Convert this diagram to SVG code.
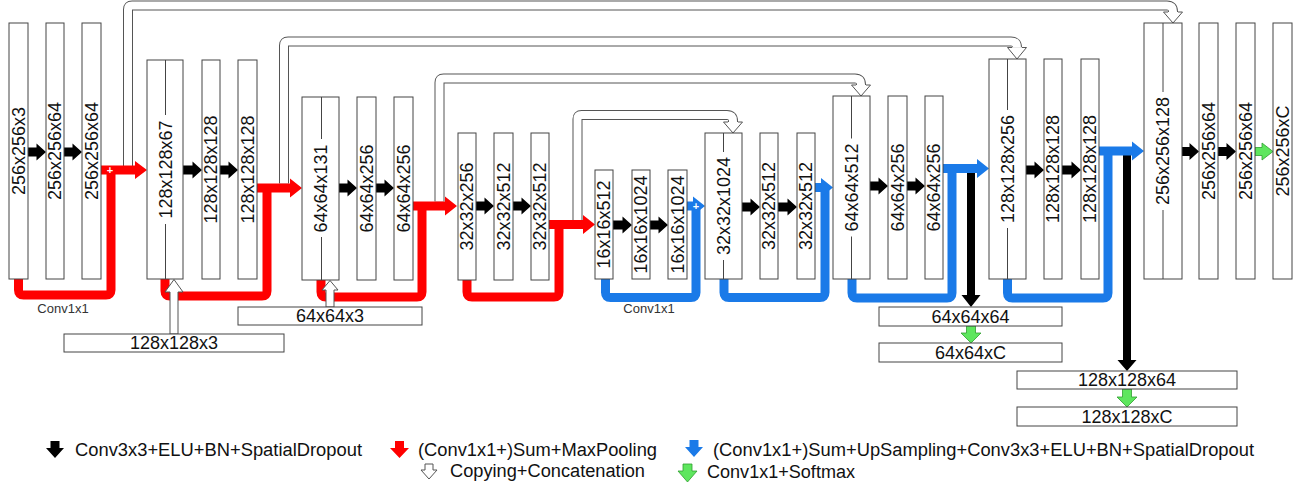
<svg xmlns="http://www.w3.org/2000/svg" width="1309" height="492" viewBox="0 0 1309 492">
<style>
.box{fill:#fff;stroke:#444;stroke-width:1}
.mid{stroke:#444;stroke-width:1;fill:none}
.lbl{font-family:"Liberation Sans",Arial,sans-serif;font-size:18px;fill:#111;text-anchor:middle;dominant-baseline:central}
.small{font-family:"Liberation Sans",Arial,sans-serif;font-size:13px;fill:#333;text-anchor:middle}
.leg{font-family:"Liberation Sans",Arial,sans-serif;font-size:18.8px;fill:#111}
.plus{font-family:"Liberation Sans",Arial,sans-serif;font-size:11px;font-weight:bold;fill:#fff;text-anchor:middle;dominant-baseline:central}
.blk{fill:#000}
.redf{fill:#f00}
.bluef{fill:#1a7ae8}
.grn{fill:#5ee65e;stroke:#2e9e2e;stroke-width:0.8}
.wht{fill:#fff;stroke:#555;stroke-width:1}
.redb{fill:none;stroke:#f00;stroke-width:9}
.blueb{fill:none;stroke:#1a7ae8;stroke-width:9}
.cpo{fill:none;stroke:#555;stroke-width:10}
.cpi{fill:none;stroke:#fff;stroke-width:8}
.cph{fill:#fff;stroke:#555;stroke-width:1}
</style>

<g id="connectors">
  <g id="copy-connectors">
    <path class="cpo" d="M128,166 V9.5 Q128,5.5 132,5.5 H1167 Q1173,5.5 1173,11.5 V12"/>
    <path class="cpi" d="M128,166 V9.5 Q128,5.5 132,5.5 H1167 Q1173,5.5 1173,11.5 V12"/>
    <path class="cph" d="M1168,12 H1163.5 L1173,23 L1182.5,12 H1178"/>
    <path class="cpo" d="M284,183.5 V45.5 Q284,41.5 288,41.5 H1011 Q1017,41.5 1017,47.5"/>
    <path class="cpi" d="M284,183.5 V45.5 Q284,41.5 288,41.5 H1011 Q1017,41.5 1017,47.5"/>
    <path class="cph" d="M1012,47.5 H1007.5 L1017,59 L1026.5,47.5 H1022"/>
    <path class="cpo" d="M439.5,201.5 V82.5 Q439.5,78.5 443.5,78.5 H855 Q861,78.5 861,84.5 V85"/>
    <path class="cpi" d="M439.5,201.5 V82.5 Q439.5,78.5 443.5,78.5 H855 Q861,78.5 861,84.5 V85"/>
    <path class="cph" d="M856,85 H851.5 L861,96 L870.5,85 H866"/>
    <path class="cpo" d="M577.5,220 V119 Q577.5,115 581.5,115 H727 Q733,115 733,121 V122"/>
    <path class="cpi" d="M577.5,220 V119 Q577.5,115 581.5,115 H727 Q733,115 733,121 V122"/>
    <path class="cph" d="M728,122 H723.5 L733,133 L742.5,122 H738"/>
  </g>
  <polygon class="blk" points="967,168 975,168 975,295 980.5,295 971,307 961.5,295 967,295"/>
  <polygon class="blk" points="1123,151 1131,151 1131,360 1136.5,360 1127,371 1117.5,360 1123,360"/>
  <path class="redb" d="M18.5,279 V290 Q18.5,295 23.5,295 H106 Q111,295 111,290 V170"/>
  <polygon class="redf" points="101,165.5 135,165.5 135,161 147,170 135,179 135,174.5 101,174.5"/>
  <path class="redb" d="M165,279 V291 Q165,296 170,296 H262 Q267,296 267,291 V188"/>
  <polygon class="redf" points="257,183.5 290,183.5 290,178.5 302,188 290,197.5 290,192.5 257,192.5"/>
  <path class="redb" d="M321,279 V292 Q321,297 326,297 H417 Q422,297 422,292 V206"/>
  <polygon class="redf" points="413,201.5 445,201.5 445,196.5 457,206 445,215.5 445,210.5 413,210.5"/>
  <path class="redb" d="M467,279 V292 Q467,297 472,297 H554 Q559,297 559,292 V224.5"/>
  <polygon class="redf" points="549,220 583,220 583,215 595,224.5 583,234 583,229 549,229"/>
  <path class="blueb" d="M605.5,279 V292.5 Q605.5,297.5 610.5,297.5 H691 Q696,297.5 696,292.5 V206"/>
  <polygon class="bluef" points="687,201.5 693,201.5 693,196.5 705,206 693,215.5 693,210.5 687,210.5"/>
  <path class="blueb" d="M724,279 V292.5 Q724,297.5 729,297.5 H820 Q825,297.5 825,292.5 V187.5"/>
  <polygon class="bluef" points="815,183 821,183 821,178 833,187.5 821,197 821,192 815,192"/>
  <path class="blueb" d="M852,279 V293 Q852,298 857,298 H947 Q952,298 952,293 V168.5"/>
  <polygon class="bluef" points="943,164 977,164 977,159 989,168.5 977,178 977,173 943,173"/>
  <path class="blueb" d="M1007.5,279 V293 Q1007.5,298 1012.5,298 H1103 Q1108,298 1108,293 V151"/>
  <polygon class="bluef" points="1099,146.5 1132,146.5 1132,141.5 1144,151 1132,160.5 1132,155.5 1099,155.5"/>
  <text class="plus" x="110" y="170">+</text>
  <text class="plus" x="696" y="206">+</text>
  <polygon class="wht" points="170,334 170,292 165,292 174,279.5 183,292 178,292 178,334"/>
  <polygon class="wht" points="326,307 326,290 322,290 330,280.5 338,290 334,290 334,307"/>
  <polygon class="blk" points="28,147.5 36.5,147.5 36.5,143.5 46,152 36.5,160.5 36.5,156.5 28,156.5"/>
  <polygon class="blk" points="64,147.5 72.5,147.5 72.5,143.5 82,152 72.5,160.5 72.5,156.5 64,156.5"/>
  <polygon class="blk" points="183,165.5 192.5,165.5 192.5,161.5 202,170 192.5,178.5 192.5,174.5 183,174.5"/>
  <polygon class="blk" points="220,165.5 228.5,165.5 228.5,161.5 238,170 228.5,178.5 228.5,174.5 220,174.5"/>
  <polygon class="blk" points="339,183.5 347.5,183.5 347.5,179.5 357,188 347.5,196.5 347.5,192.5 339,192.5"/>
  <polygon class="blk" points="376,183.5 384.5,183.5 384.5,179.5 394,188 384.5,196.5 384.5,192.5 376,192.5"/>
  <polygon class="blk" points="476,201.5 484.5,201.5 484.5,197.5 494,206 484.5,214.5 484.5,210.5 476,210.5"/>
  <polygon class="blk" points="513,201.5 521.5,201.5 521.5,197.5 531,206 521.5,214.5 521.5,210.5 513,210.5"/>
  <polygon class="blk" points="613,220.5 622.5,220.5 622.5,216.5 632,225 622.5,233.5 622.5,229.5 613,229.5"/>
  <polygon class="blk" points="650,220.5 658.5,220.5 658.5,216.5 668,225 658.5,233.5 658.5,229.5 650,229.5"/>
  <polygon class="blk" points="742,202.5 750.5,202.5 750.5,198.5 760,207 750.5,215.5 750.5,211.5 742,211.5"/>
  <polygon class="blk" points="778,202.5 787.5,202.5 787.5,198.5 797,207 787.5,215.5 787.5,211.5 778,211.5"/>
  <polygon class="blk" points="870,181.5 878.5,181.5 878.5,177.5 888,186 878.5,194.5 878.5,190.5 870,190.5"/>
  <polygon class="blk" points="907,181.5 915.5,181.5 915.5,177.5 925,186 915.5,194.5 915.5,190.5 907,190.5"/>
  <polygon class="blk" points="1026,165.5 1034.5,165.5 1034.5,161.5 1044,170 1034.5,178.5 1034.5,174.5 1026,174.5"/>
  <polygon class="blk" points="1062,165.5 1071.5,165.5 1071.5,161.5 1081,170 1071.5,178.5 1071.5,174.5 1062,174.5"/>
  <polygon class="blk" points="1182,147 1189.5,147 1189.5,143 1199,151.5 1189.5,160 1189.5,156 1182,156"/>
  <polygon class="blk" points="1218,147 1226.5,147 1226.5,143 1236,151.5 1226.5,160 1226.5,156 1218,156"/>
  <polygon class="grn" points="1255,147.5 1262,147.5 1262,143 1273,151.5 1262,160 1262,155.5 1255,155.5"/>
  <polygon class="grn" points="966.5,326 975.5,326 975.5,333 981,333 971,343 961,333 966.5,333"/>
  <polygon class="grn" points="1122.5,389 1131.5,389 1131.5,397 1137,397 1127,407 1117,397 1122.5,397"/>
  <text class="small" x="63" y="313">Conv1x1</text>
  <text class="small" x="649" y="313">Conv1x1</text>
</g>

<g id="nodes">
  <g id="n-a1"><rect class="box" x="9" y="23" width="19" height="256"/><text class="lbl" transform="translate(18.5,151) rotate(-90)">256x256x3</text></g>
  <g id="n-a2"><rect class="box" x="46" y="23" width="18" height="256"/><text class="lbl" transform="translate(55,151) rotate(-90)">256x256x64</text></g>
  <g id="n-a3"><rect class="box" x="82" y="23" width="19" height="256"/><text class="lbl" transform="translate(91.5,151) rotate(-90)">256x256x64</text></g>

  <g id="n-b1"><rect class="box" x="147" y="60" width="36" height="219"/><path class="mid" d="M165.5,60 V115 M165.5,224 V279"/><text class="lbl" transform="translate(165.5,169.5) rotate(-90)">128x128x67</text></g>
  <g id="n-b2"><rect class="box" x="202" y="60" width="18" height="219"/><text class="lbl" transform="translate(211,169.5) rotate(-90)">128x128x128</text></g>
  <g id="n-b3"><rect class="box" x="238" y="60" width="19" height="219"/><text class="lbl" transform="translate(247.5,169.5) rotate(-90)">128x128x128</text></g>

  <g id="n-c1"><rect class="box" x="302" y="97" width="37" height="183"/><path class="mid" d="M321.5,97 V139 M321.5,237 V280"/><text class="lbl" transform="translate(321,188.5) rotate(-90)">64x64x131</text></g>
  <g id="n-c2"><rect class="box" x="357" y="97" width="19" height="183"/><text class="lbl" transform="translate(366.5,188.5) rotate(-90)">64x64x256</text></g>
  <g id="n-c3"><rect class="box" x="394" y="97" width="19" height="183"/><text class="lbl" transform="translate(403.5,188.5) rotate(-90)">64x64x256</text></g>

  <g id="n-d1"><rect class="box" x="458" y="133" width="18" height="147"/><text class="lbl" transform="translate(467,206.5) rotate(-90)">32x32x256</text></g>
  <g id="n-d2"><rect class="box" x="494" y="133" width="19" height="147"/><text class="lbl" transform="translate(503.5,206.5) rotate(-90)">32x32x512</text></g>
  <g id="n-d3"><rect class="box" x="531" y="133" width="18" height="147"/><text class="lbl" transform="translate(540,206.5) rotate(-90)">32x32x512</text></g>

  <g id="n-e1"><rect class="box" x="595" y="170" width="18" height="109"/><text class="lbl" transform="translate(604,224.5) rotate(-90)">16x16x512</text></g>
  <g id="n-e2"><rect class="box" x="632" y="170" width="18" height="109"/><text class="lbl" transform="translate(641,224.5) rotate(-90)">16x16x1024</text></g>
  <g id="n-e3"><rect class="box" x="668" y="170" width="19" height="109"/><text class="lbl" transform="translate(677.5,224.5) rotate(-90)">16x16x1024</text></g>

  <g id="n-f1"><rect class="box" x="705" y="133" width="37" height="146"/><path class="mid" d="M723.5,133 V152 M723.5,260 V279"/><text class="lbl" transform="translate(723.5,206) rotate(-90)">32x32x1024</text></g>
  <g id="n-f2"><rect class="box" x="760" y="133" width="18" height="146"/><text class="lbl" transform="translate(769,206) rotate(-90)">32x32x512</text></g>
  <g id="n-f3"><rect class="box" x="797" y="133" width="18" height="146"/><text class="lbl" transform="translate(806,206) rotate(-90)">32x32x512</text></g>

  <g id="n-g1"><rect class="box" x="833" y="96" width="37" height="183"/><path class="mid" d="M851.5,96 V138.5 M851.5,236.5 V279"/><text class="lbl" transform="translate(851.5,187.5) rotate(-90)">64x64x512</text></g>
  <g id="n-g2"><rect class="box" x="888" y="96" width="19" height="183"/><text class="lbl" transform="translate(897.5,187.5) rotate(-90)">64x64x256</text></g>
  <g id="n-g3"><rect class="box" x="925" y="96" width="18" height="183"/><text class="lbl" transform="translate(934,187.5) rotate(-90)">64x64x256</text></g>

  <g id="n-h1"><rect class="box" x="989" y="59" width="37" height="220"/><path class="mid" d="M1007.5,59 V110 M1007.5,228 V279"/><text class="lbl" transform="translate(1007.5,169) rotate(-90)">128x128x256</text></g>
  <g id="n-h2"><rect class="box" x="1044" y="59" width="18" height="220"/><text class="lbl" transform="translate(1053,169) rotate(-90)">128x128x128</text></g>
  <g id="n-h3"><rect class="box" x="1081" y="59" width="18" height="220"/><text class="lbl" transform="translate(1090,169) rotate(-90)">128x128x128</text></g>

  <g id="n-i1"><rect class="box" x="1144" y="23" width="38" height="256"/><path class="mid" d="M1163,23 V92 M1163,210 V279"/><text class="lbl" transform="translate(1163,151) rotate(-90)">256x256x128</text></g>
  <g id="n-i2"><rect class="box" x="1199" y="23" width="19" height="256"/><text class="lbl" transform="translate(1208.5,151) rotate(-90)">256x256x64</text></g>
  <g id="n-i3"><rect class="box" x="1236" y="23" width="19" height="256"/><text class="lbl" transform="translate(1245.5,151) rotate(-90)">256x256x64</text></g>
  <g id="n-i4"><rect class="box" x="1273" y="23" width="19" height="256"/><text class="lbl" transform="translate(1282.5,151) rotate(-90)">256x256xC</text></g>

  <g id="in-128"><rect class="box" x="64" y="334" width="220" height="18"/><text class="lbl" x="174" y="343">128x128x3</text></g>
  <g id="in-64"><rect class="box" x="238" y="307" width="184" height="18"/><text class="lbl" x="330" y="316">64x64x3</text></g>
  <g id="out-64"><rect class="box" x="879" y="307" width="183" height="19"/><text class="lbl" x="970.5" y="316.5">64x64x64</text></g>
  <g id="out-64c"><rect class="box" x="879" y="343" width="183" height="19"/><text class="lbl" x="970.5" y="352.5">64x64xC</text></g>
  <g id="out-128"><rect class="box" x="1017" y="371" width="220" height="18"/><text class="lbl" x="1127" y="380">128x128x64</text></g>
  <g id="out-128c"><rect class="box" x="1017" y="407" width="220" height="19"/><text class="lbl" x="1127" y="416.5">128x128xC</text></g>
</g>

<g id="legend">
  <polygon class="blk" points="50.5,441 59.5,441 59.5,448 64,448 55,458 46,448 50.5,448"/>
  <text class="leg" x="75" y="456" textLength="287" lengthAdjust="spacingAndGlyphs">Conv3x3+ELU+BN+SpatialDropout</text>
  <polygon class="redf" points="395,441 404,441 404,448 409,448 399.5,458 390,448 395,448"/>
  <text class="leg" x="418" y="456" textLength="239" lengthAdjust="spacingAndGlyphs">(Conv1x1+)Sum+MaxPooling</text>
  <polygon class="wht" points="425,464 433,464 433,470 437,470 429,479 421,470 425,470"/>
  <text class="leg" x="450" y="477" textLength="195" lengthAdjust="spacingAndGlyphs">Copying+Concatenation</text>
  <polygon class="bluef" points="689.5,440 698.5,440 698.5,447 703,447 694,457 685,447 689.5,447"/>
  <text class="leg" x="713" y="456" textLength="541" lengthAdjust="spacingAndGlyphs">(Conv1x1+)Sum+UpSampling+Conv3x3+ELU+BN+SpatialDropout</text>
  <polygon class="grn" points="683,464 692,464 692,471 697,471 687.5,482 678,471 683,471"/>
  <text class="leg" x="707" y="478" textLength="148" lengthAdjust="spacingAndGlyphs">Conv1x1+Softmax</text>
</g>
</svg>
